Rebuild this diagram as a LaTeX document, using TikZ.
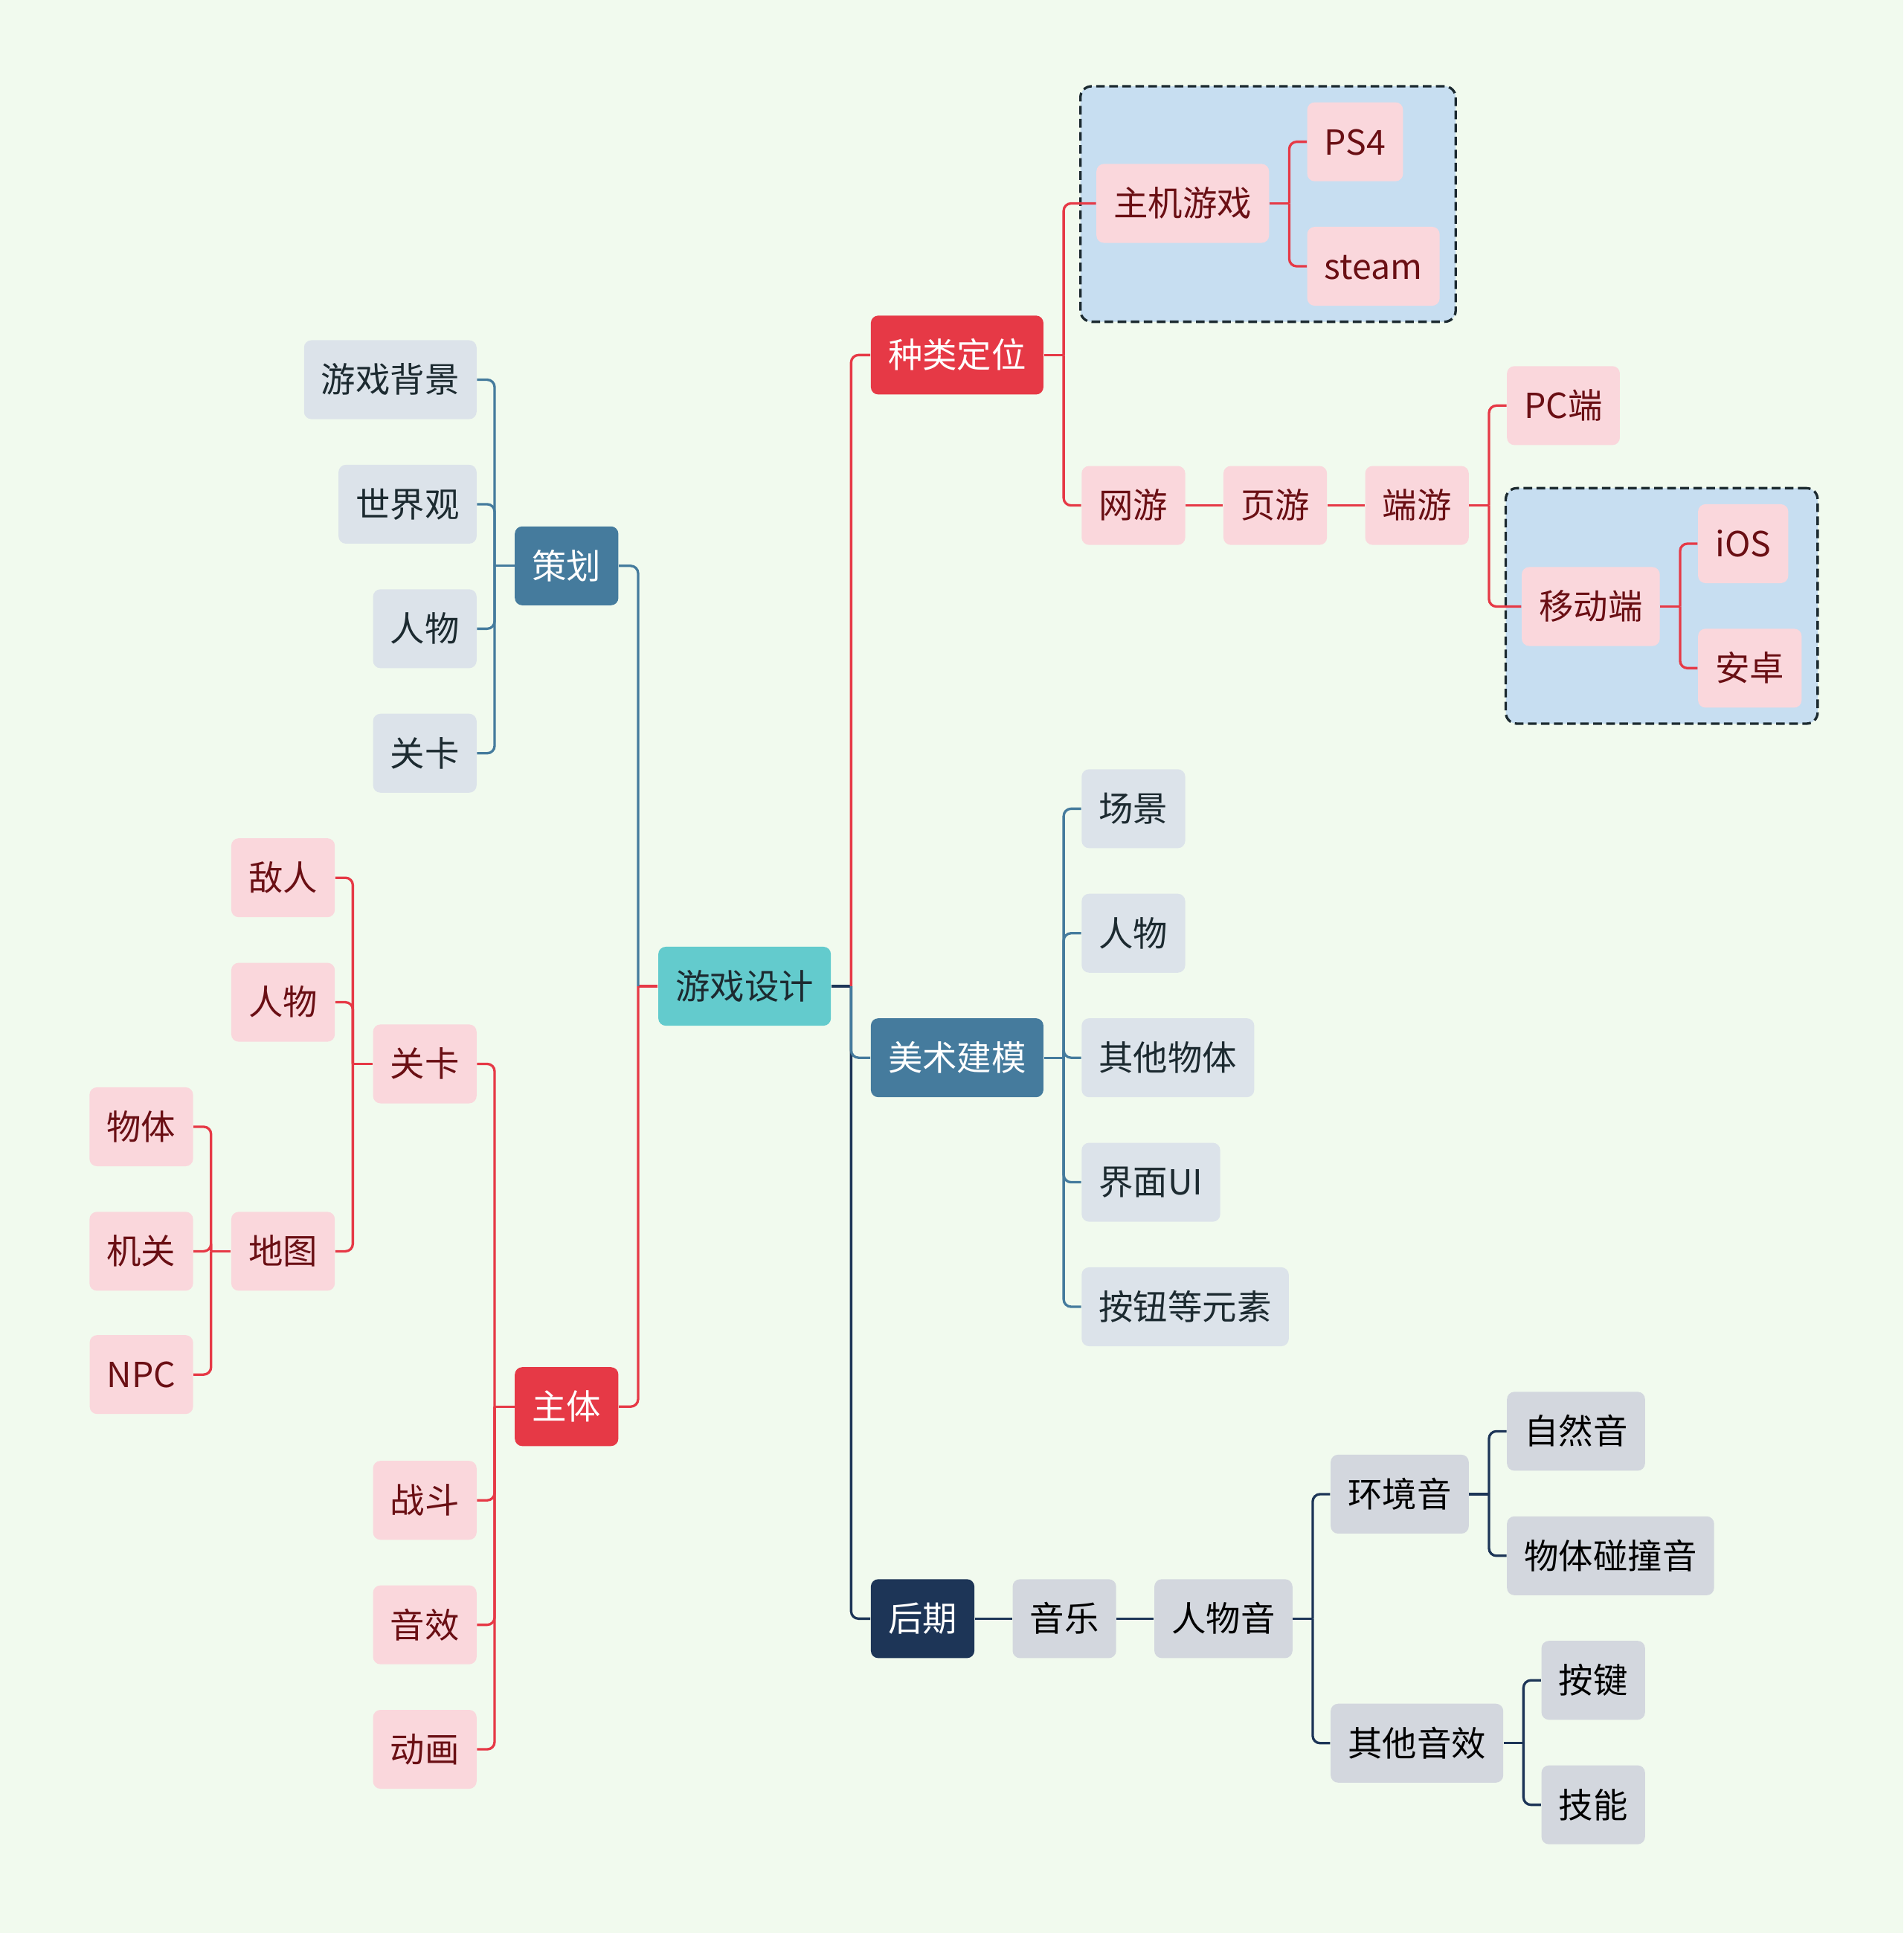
\documentclass[tikz,border=0pt]{standalone}
\usepackage{fontspec}
\usetikzlibrary{fit,backgrounds}
\newfontfamily\cjk{Noto Sans CJK SC}
\definecolor{grund}{HTML}{F1FAEE}
\definecolor{rot}{HTML}{E63946}
\definecolor{stahl}{HTML}{457B9D}
\definecolor{marine}{HTML}{1D3557}
\definecolor{tuerkis}{HTML}{63CBCD}
\definecolor{rosa}{HTML}{FAD7DC}
\definecolor{weinrot}{HTML}{6A0F14}
\definecolor{nebel}{HTML}{DCE3EA}
\definecolor{silber}{HTML}{D3D7DE}
\definecolor{himmel}{HTML}{C7DEF1}
\definecolor{tinte}{HTML}{1C2A30}
\newcommand{\knotenschrift}{\cjk\fontsize{14}{17}\selectfont}
\tikzset{knoten/.style={rounded corners=3pt,inner xsep=7pt,inner ysep=0pt,minimum height=32pt,text height=12pt,text depth=1.5pt,font=\knotenschrift},
  wurzel/.style={knoten,fill=tuerkis,text=tinte},
  hauptrot/.style={knoten,fill=rot,text=white},
  hauptblau/.style={knoten,fill=stahl,text=white},
  hauptmarine/.style={knoten,fill=marine,text=white},
  blatt/.style={knoten,fill=rosa,text=weinrot},
  nebelblatt/.style={knoten,fill=nebel,text=tinte},
  silberblatt/.style={knoten,fill=silber,text=black},
  zweig/.style={line width=1pt},
  gruppe/.style={draw=tinte,fill=himmel,line width=1pt,dash pattern=on 3.5pt off 1.8pt,rounded corners=4.5pt,inner sep=6.3pt}}
\newcommand{\zweigrechts}[3]{\draw[zweig,#1] (#2.east) -- ++(16,0) coordinate (#2-r);
  \foreach \k in {#3} \draw[zweig,#1,rounded corners=3pt] (#2-r) |- (\k.west);}
\newcommand{\zweiglinks}[3]{\draw[zweig,#1] (#2.west) -- ++(-16,0) coordinate (#2-l);
  \foreach \k in {#3} \draw[zweig,#1,rounded corners=3pt] (#2-l) |- (\k.east);}

\begin{document}
\begin{tikzpicture}[x=0.5pt,y=-0.5pt]
\useasboundingbox (0,0) rectangle (1544,1568);
\node[wurzel] (sheji) at (604,800) {游戏设计};
\node[hauptrot,anchor=west] (zhonglei) at (706,288) {种类定位};
\node[hauptblau,anchor=west] (meishu) at (706,858) {美术建模};
\node[hauptmarine,anchor=west] (houqi) at (706,1313) {后期};
\node[hauptblau,anchor=east] (cehua) at (502,459) {策划};
\node[hauptrot,anchor=east] (zhuti) at (502,1141) {主体};
\node[nebelblatt,anchor=east] (beijing) at (387,308) {游戏背景};
\node[nebelblatt,anchor=east] (shijie) at (387,409) {世界观};
\node[nebelblatt,anchor=east] (renwua) at (387,510) {人物};
\node[nebelblatt,anchor=east] (guankaa) at (387,611) {关卡};
\node[blatt,anchor=east] (guanka) at (387,863) {关卡};
\node[blatt,anchor=east] (zhandou) at (387,1217) {战斗};
\node[blatt,anchor=east] (yinxiao) at (387,1318) {音效};
\node[blatt,anchor=east] (donghua) at (387,1419) {动画};
\node[blatt,anchor=east] (diren) at (272,712) {敌人};
\node[blatt,anchor=east] (renwub) at (272,813) {人物};
\node[blatt,anchor=east] (ditu) at (272,1015) {地图};
\node[blatt,anchor=east] (wuti) at (157,914) {物体};
\node[blatt,anchor=east] (jiguan) at (157,1015) {机关};
\node[blatt,anchor=east] (npc) at (157,1115) {NPC};
\node[blatt,anchor=west] (zhuji) at (889,165) {主机游戏};
\node[blatt,anchor=west] (ps) at (1060,115) {PS4};
\node[blatt,anchor=west] (steam) at (1060,216) {steam};
\node[blatt,anchor=west] (wangyou) at (877,410) {网游};
\node[blatt,anchor=west] (yeyou) at (992,410) {页游};
\node[blatt,anchor=west] (duanyou) at (1107,410) {端游};
\node[blatt,anchor=west] (pc) at (1222,329) {PC端};
\node[blatt,anchor=west] (yidong) at (1234,492) {移动端};
\node[blatt,anchor=west] (ios) at (1377,441) {iOS};
\node[blatt,anchor=west] (anzhuo) at (1377,542) {安卓};
\node[nebelblatt,anchor=west] (changjing) at (877,656) {场景};
\node[nebelblatt,anchor=west] (renwuc) at (877,757) {人物};
\node[nebelblatt,anchor=west] (qita) at (877,858) {其他物体};
\node[nebelblatt,anchor=west] (jiemian) at (877,959) {界面UI};
\node[nebelblatt,anchor=west] (anniu) at (877,1060) {按钮等元素};
\node[silberblatt,anchor=west] (yinyue) at (821,1313) {音乐};
\node[silberblatt,anchor=west] (renwuyin) at (936,1313) {人物音};
\node[silberblatt,anchor=west] (huanjing) at (1079,1212) {环境音};
\node[silberblatt,anchor=west] (qitayin) at (1079,1414) {其他音效};
\node[silberblatt,anchor=west] (ziran) at (1222,1161) {自然音};
\node[silberblatt,anchor=west] (pengzhuang) at (1222,1262) {物体碰撞音};
\node[silberblatt,anchor=west] (anjian) at (1250,1363) {按键};
\node[silberblatt,anchor=west] (jineng) at (1250,1464) {技能};
\begin{scope}[on background layer]
\fill[grund] (0,0) rectangle (1544,1568);
\node[gruppe,fit=(zhuji)(ps)(steam)] (konsole) {};
\node[gruppe,fit=(yidong)(ios)(anzhuo)] (mobil) {};
\end{scope}
\draw[zweig,marine] (sheji.east) -- ++(16,0) coordinate (sheji-r);
\draw[zweig,rot,rounded corners=3pt] (sheji-r) |- (zhonglei.west);
\draw[zweig,marine,rounded corners=3pt] (sheji-r) |- (houqi.west);
\draw[zweig,stahl,rounded corners=3pt] (sheji-r) |- (meishu.west);
\draw[zweig,rot] (sheji.west) -- ++(-16,0) coordinate (sheji-l);
\draw[zweig,stahl,rounded corners=3pt] (sheji-l) |- (cehua.east);
\draw[zweig,rot,rounded corners=3pt] (sheji-l) |- (zhuti.east);
\zweiglinks{stahl}{cehua}{beijing,shijie,renwua,guankaa}
\zweiglinks{rot}{zhuti}{guanka,zhandou,yinxiao,donghua}
\zweiglinks{rot}{guanka}{diren,renwub,ditu}
\zweiglinks{rot}{ditu}{wuti,jiguan,npc}
\zweigrechts{rot}{zhonglei}{zhuji,wangyou}
\zweigrechts{rot}{zhuji}{ps,steam}
\draw[zweig,rot] (wangyou.east) -- (yeyou.west);
\draw[zweig,rot] (yeyou.east) -- (duanyou.west);
\zweigrechts{rot}{duanyou}{pc,yidong}
\zweigrechts{rot}{yidong}{ios,anzhuo}
\zweigrechts{stahl}{meishu}{changjing,renwuc,qita,jiemian,anniu}
\draw[zweig,marine] (houqi.east) -- (yinyue.west);
\draw[zweig,marine] (yinyue.east) -- (renwuyin.west);
\zweigrechts{marine}{renwuyin}{huanjing,qitayin}
\zweigrechts{marine}{huanjing}{ziran,pengzhuang}
\zweigrechts{marine}{qitayin}{anjian,jineng}
\end{tikzpicture}
\end{document}
